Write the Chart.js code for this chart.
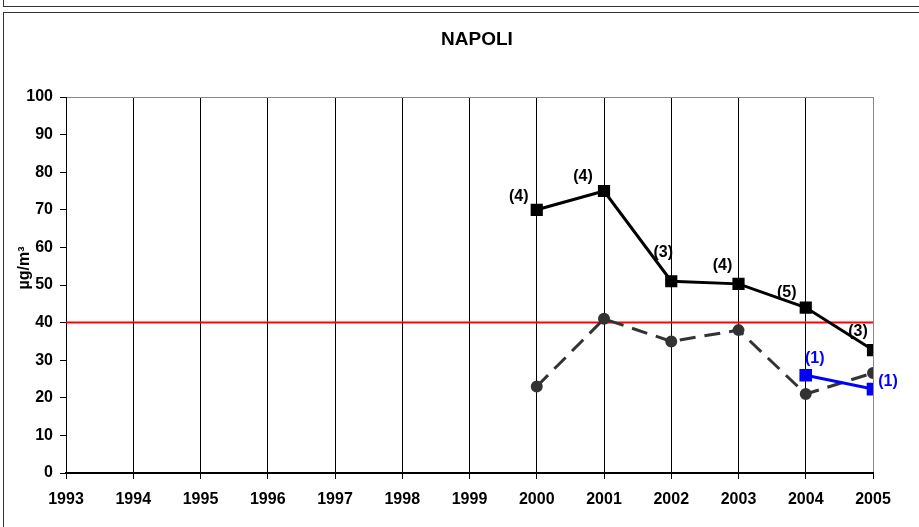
<!DOCTYPE html>
<html>
<head>
<meta charset="utf-8">
<script src="https://cdn.jsdelivr.net/npm/chart.js@4/dist/chart.umd.min.js"></script>
<style>
body{margin:0;background:#fff;width:919px;height:527px;overflow:hidden;position:relative;font-family:"Liberation Sans",Arial,sans-serif}
#topbox{position:absolute;left:3px;top:-2px;width:920px;height:7px;border:1px solid #333}
#frame{position:absolute;left:3px;top:12px;width:920px;height:520px;border:1px solid #333}
#wrap{position:absolute;left:4px;top:13px;width:914px;height:513px}
</style>
</head>
<body>
<div id="topbox"></div>
<div id="frame"></div>
<div id="wrap"><canvas id="chart"></canvas></div>
<script>
// values
const years=[2000,2001,2002,2003,2004,2005];
const mainVals=[70,75,51,50.3,44,32.7];
const mainCounts=['(4)','(4)','(3)','(4)','(5)','(3)'];
const dashVals=[23,41,35,38,21,26.6];
const blueYears=[2004,2005];
const blueVals=[26,22.3];
const blueCounts=['(1)','(1)'];
const limitYears=[1993,2005];
const limitVals=[40,40];
const yTicks=[0,10,20,30,40,50,60,70,80,90,100];
const chartTitle='NAPOLI';
const yTitle='µg/m³';

// label placement relative to the marker (px)
const mainOffsets=[[-18,-13],[-21,-14],[-8,-29],[-16,-18],[-19,-15],[-15,-18]];
const blueOffsets=[[9,-17],[15,-8]];

const pts=(xs,ys)=>xs.map((x,i)=>({x,y:ys[i]}));
const FONT='"Liberation Sans", Arial, sans-serif';

// titles and the (n) counts next to the markers
const textLayer={
  id:'textLayer',
  afterDatasetsDraw(chart){
    const c=chart.ctx;
    c.save();
    c.textAlign='center';c.textBaseline='middle';
    c.fillStyle='#000';
    c.font='bold 19px '+FONT;
    c.fillText(chartTitle,473,27);
    c.save();
    c.translate(21,255);c.rotate(-Math.PI/2);
    c.font='bold 16px '+FONT;
    c.fillText(yTitle,0,0);
    c.restore();
    chart.data.datasets.forEach((ds,di)=>{
      if(!ds.counts)return;
      const meta=chart.getDatasetMeta(di);
      c.font='bold 16px '+FONT;
      c.fillStyle=ds.borderColor;
      meta.data.forEach((p,i)=>{
        const o=ds.offsets[i];
        c.fillText(ds.counts[i],p.x+o[0],p.y+o[1]);
      });
    });
    c.restore();
  }
};

new Chart(document.getElementById('chart'),{
  type:'line',
  data:{datasets:[
    {data:pts(limitYears,limitVals),borderColor:'#ff0000',borderWidth:2,pointRadius:0,order:4},
    {data:pts(years,dashVals),borderColor:'#333333',backgroundColor:'#333333',borderWidth:3,borderDash:[16,9],
     pointStyle:'circle',pointRadius:4.5,order:3},
    {data:pts(years,mainVals),borderColor:'#000000',backgroundColor:'#000000',borderWidth:3,
     pointStyle:'rect',pointRadius:6.5,counts:mainCounts,offsets:mainOffsets,order:2},
    {data:pts(blueYears,blueVals),borderColor:'#0000ff',backgroundColor:'#0000ff',borderWidth:3,
     pointStyle:'rect',pointRadius:6.8,counts:blueCounts,offsets:blueOffsets,order:1}
  ]},
  options:{
    responsive:true,maintainAspectRatio:false,animation:false,
    layout:{padding:{left:0,right:45,top:84,bottom:0}},
    plugins:{legend:{display:false},tooltip:{enabled:false},title:{display:false}},
    scales:{
      x:{type:'linear',min:1993,max:2005,
        afterFit:s=>{s.height=53;},
        ticks:{stepSize:1,autoSkip:false,maxRotation:0,color:'#000',padding:11,font:{family:FONT,size:16,weight:'bold'},callback:v=>String(v)},
        grid:{color:c=>c.tick&&c.tick.value===2005?'#888':'#000',lineWidth:1,tickLength:6,tickColor:'#000'},
        border:{color:'#000',width:2}},
      y:{min:0,max:100,
        afterFit:s=>{s.width=62;},
        afterBuildTicks:s=>{s.ticks=yTicks.map(v=>({value:v}));},
        ticks:{color:'#000',padding:7,font:{family:FONT,size:16,weight:'bold'}},
        grid:{color:c=>c.tick&&c.tick.value===100?'#888':'rgba(0,0,0,0)',tickColor:'#000',tickLength:6,lineWidth:1},
        border:{color:'#000',width:1}}
    }
  },
  plugins:[textLayer]
});
</script>
</body>
</html>
